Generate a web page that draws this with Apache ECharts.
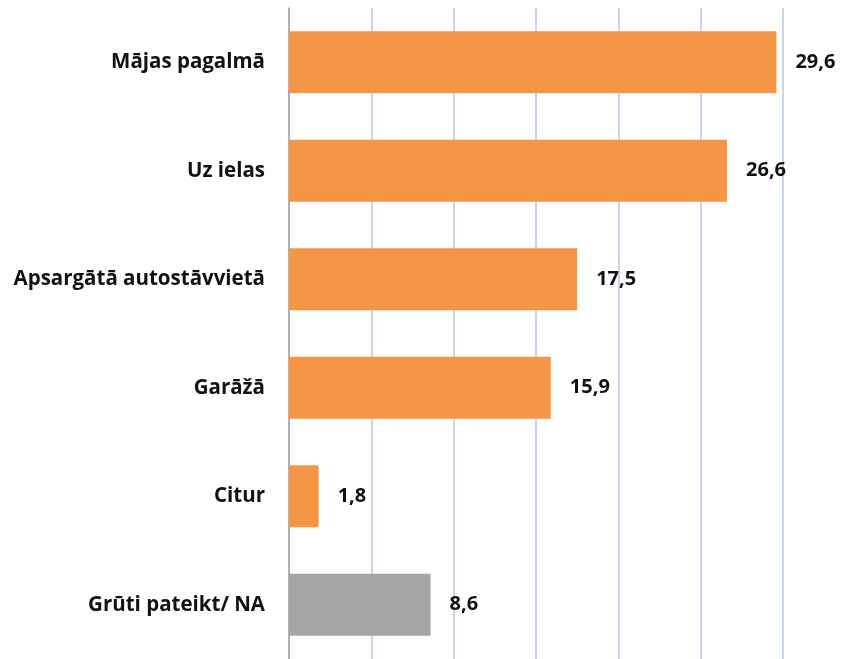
<!DOCTYPE html>
<html>
<head>
<meta charset="utf-8">
<script src="https://cdn.jsdelivr.net/npm/echarts@6/dist/echarts.min.js"></script>
<style>
html, body { margin: 0; padding: 0; background: #fff; }
#chart { width: 857px; height: 659px; }
</style>
</head>
<body>
<div id="chart"></div>
<script>
var categories = ['Mājas pagalmā', 'Uz ielas', 'Apsargātā autostāvvietā', 'Garāžā', 'Citur', 'Grūti pateikt/ NA'];
var values = [29.6, 26.6, 17.5, 15.9, 1.8, 8.6];
var barColors = ['#F59646', '#F59646', '#F59646', '#F59646', '#F59646', '#A5A5A5'];

var myChart = echarts.init(document.getElementById('chart'));
var option = {
    backgroundColor: '#FFFFFF',
    animation: false,
    grid: {
        left: 289,
        right: 74,
        top: 8,
        height: 656,
        containLabel: false
    },
    xAxis: {
        type: 'value',
        min: 0,
        max: 30,
        interval: 5,
        axisLabel: { show: false },
        axisLine: { show: false },
        axisTick: { show: false },
        splitLine: { lineStyle: { color: '#B4C7E7', width: 1.5 } }
    },
    yAxis: {
        type: 'category',
        inverse: true,
        data: categories,
        axisLine: { lineStyle: { color: '#A6A6A6', width: 1.5 } },
        axisTick: { show: false },
        axisLabel: {
            margin: 24,
            fontFamily: 'Open Sans',
            fontWeight: 'bold',
            fontSize: 20.5,
            color: '#111'
        }
    },
    series: [{
        type: 'bar',
        barCategoryGap: '43%',
        data: values.map(function (v, i) {
            return { value: v, itemStyle: { color: barColors[i] } };
        }),
        label: {
            show: true,
            position: 'right',
            distance: 19,
            fontFamily: 'Open Sans',
            fontWeight: 'bold',
            fontSize: 20,
            color: '#111',
            formatter: function (p) { return String(p.value.toFixed(1)).replace('.', ','); }
        }
    }]
};
myChart.setOption(option);
</script>
</body>
</html>
